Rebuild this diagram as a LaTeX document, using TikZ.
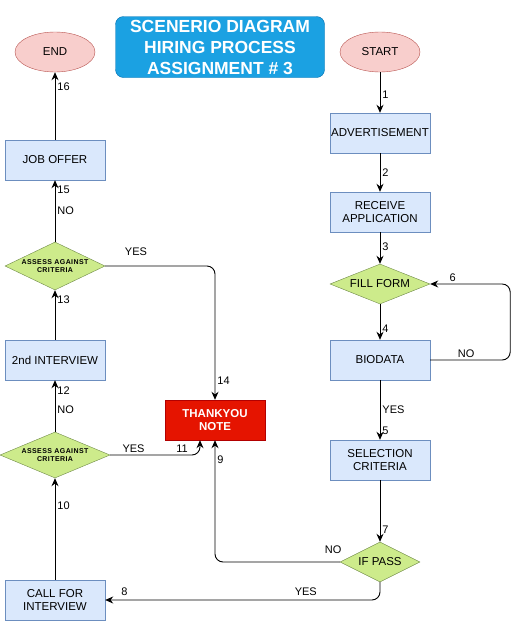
\documentclass[tikz,border=0pt]{standalone}
\usepackage{fontspec}
\setmainfont{Liberation Sans}
\usetikzlibrary{shapes.geometric,arrows.meta}

\definecolor{procfill}{HTML}{DAE8FC}
\definecolor{procline}{HTML}{6C8EBF}
\definecolor{termfill}{HTML}{F8CECC}
\definecolor{termline}{HTML}{B85450}
\definecolor{decfill}{HTML}{CDEB8B}
\definecolor{decline}{HTML}{6F8A48}
\definecolor{ttlfill}{HTML}{1BA1E2}
\definecolor{ttlline}{HTML}{006EAF}
\definecolor{notefill}{HTML}{E51400}
\definecolor{noteline}{HTML}{B20000}

\tikzset{
  proc/.style={draw=procline, fill=procfill, minimum width=100pt, minimum height=40pt,
    inner sep=0pt, align=center, font=\fontsize{11.5}{13.5}\selectfont},
  term/.style={ellipse, draw=termline, fill=termfill, minimum width=80pt, minimum height=40pt,
    inner sep=0pt, font=\fontsize{11.5}{13.5}\selectfont},
  dec/.style={diamond, draw=decline, fill=decfill, aspect=2.4, inner sep=0pt,
    minimum width=100pt, minimum height=40pt, align=center, font=\fontsize{11.5}{13.5}\selectfont},
  smalldec/.style={dec, minimum height=48pt, inner xsep=-6pt,
    font=\bfseries\fontsize{7}{8.5}\selectfont\addfontfeature{LetterSpace=6}},
  lbl/.style={inner sep=2pt, font=\fontsize{11}{13}\selectfont},
  flow/.style={-{Stealth[length=8pt,width=7pt]}, line width=0.9pt, rounded corners=8pt}
}

\begin{document}
\begin{tikzpicture}[x=1pt,y=-1pt]
  \useasboundingbox (0,0) rectangle (519,622);

  % title
  \node[draw=ttlline, fill=ttlfill, rounded corners=8pt, minimum width=209pt, minimum height=61pt,
    inner sep=0pt, align=center, text=white, font=\bfseries\fontsize{17.5}{21}\selectfont]
    (ttl) at (220,47) {SCENERIO DIAGRAM\\HIRING PROCESS\\ASSIGNMENT \# 3};

  % right column
  \node[term] (start) at (380,52) {START};
  \node[proc] (adv) at (380,133) {ADVERTISEMENT};
  \node[proc] (recv) at (380,212) {RECEIVE\\APPLICATION};
  \node[dec] (fill) at (380,284) {FILL FORM};
  \node[proc] (bio) at (380,360) {BIODATA};
  \node[proc] (sel) at (380,460) {SELECTION\\CRITERIA};
  \node[dec, minimum width=80pt] (pass) at (380,562) {IF PASS};

  % middle
  \node[draw=noteline, fill=notefill, minimum width=100pt, minimum height=40pt, inner sep=0pt,
    align=center, text=white, font=\bfseries\fontsize{11.5}{13.5}\selectfont]
    (note) at (215,420) {THANKYOU\\NOTE};

  % left column
  \node[term] (end) at (55,52) {END};
  \node[proc] (job) at (55,160) {JOB OFFER};
  \node[smalldec] (as1) at (55,266) {ASSESS AGAINST\\CRITERIA};
  \node[proc] (int2) at (55,360) {2nd INTERVIEW};
  \node[smalldec, minimum width=110pt, minimum height=46pt] (as2) at (55,455) {ASSESS AGAINST\\CRITERIA};
  \node[proc] (call) at (55,600) {CALL FOR\\INTERVIEW};

  % right column flow
  \draw[flow] (start) to node[lbl, right, pos=0.55] {1} (adv);
  \draw[flow] (adv) to node[lbl, right] {2} (recv);
  \draw[flow] (recv) to node[lbl, right, pos=0.45] {3} (fill);
  \draw[flow] (fill) to node[lbl, right, pos=0.7] {4} (bio);
  \draw[flow] (bio.east) -- ++(80,0) node[lbl, above, pos=0.45] {NO}
    |- (fill.east) node[lbl, above, pos=0.86] {6};
  \draw[flow] (bio) to node[lbl, right, pos=0.5] {YES} node[lbl, right, pos=0.85] {5} (sel);
  \draw[flow] (sel) to node[lbl, right, pos=0.8] {7} (pass);

  % if pass
  \draw[flow] (pass.west) -| node[lbl, anchor=south east, pos=0, xshift=4pt, yshift=6pt] {NO}
    node[lbl, right, pos=0.92] {9} (note.south);
  \draw[flow] (pass.south) |- node[lbl, above, pos=0.635, yshift=2pt] {YES}
    node[lbl, above, pos=0.965, yshift=2pt] {8} (call.east);

  % left column flow
  \draw[flow] (call) to node[lbl, right, pos=0.73] {10} (as2);
  \draw[flow] (as2.east) -| node[lbl, above, pos=0.13] {YES}
    node[lbl, above, pos=0.4] {11} ([xshift=-15pt]note.south);
  \draw[flow] (as2) to node[lbl, right, pos=0.42] {NO} node[lbl, right, pos=0.8] {12} (int2);
  \draw[flow] (int2) to node[lbl, right, pos=0.8] {13} (as1);
  \draw[flow] (as1.east) -| node[lbl, above, pos=0.14, yshift=8pt] {YES}
    node[lbl, right, pos=0.93] {14} (note.north);
  \draw[flow] (as1) to node[lbl, right, pos=0.5] {NO} node[lbl, right, pos=0.84] {15} (job);
  \draw[flow] (job) to node[lbl, right, pos=0.78] {16} (end);
\end{tikzpicture}
\end{document}
